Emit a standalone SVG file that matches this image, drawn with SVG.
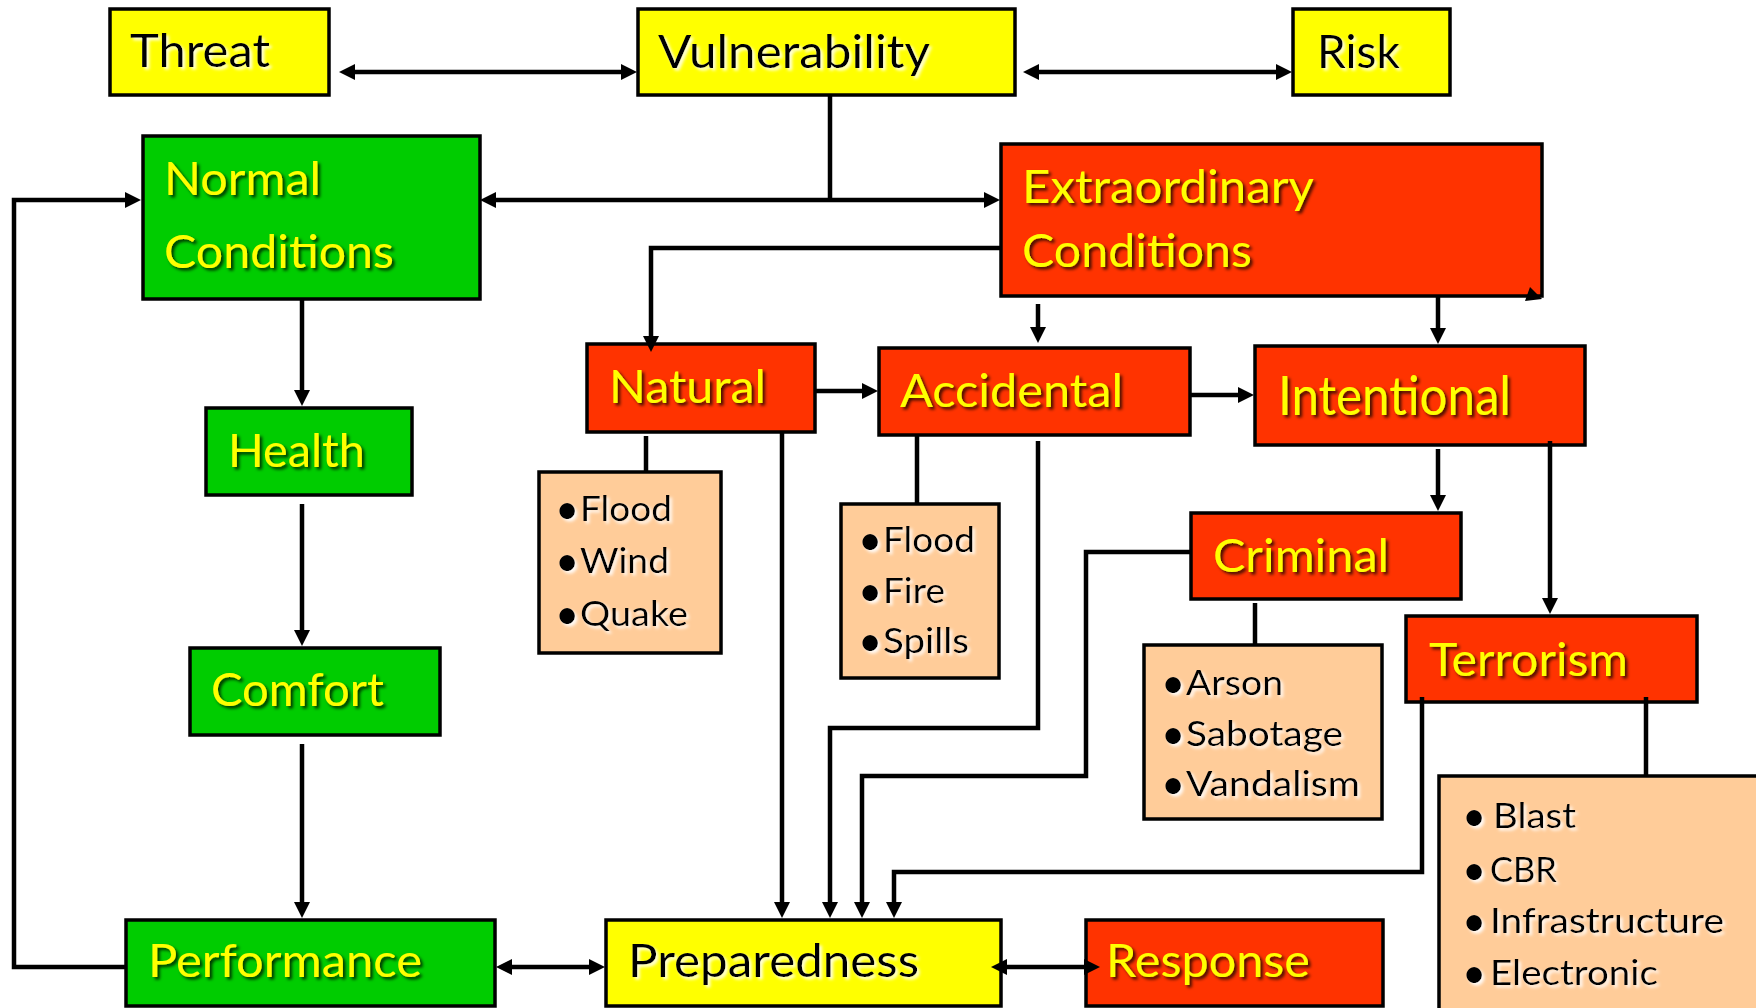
<svg xmlns="http://www.w3.org/2000/svg" width="1756" height="1008" viewBox="0 0 1756 1008">
<defs>
<style>
.box{stroke:#000;stroke-width:3.5}
.yel{fill:#FFFF00}
.grn{fill:#00CC00}
.red{fill:#FF3300}
.pch{fill:#FFCC99}
.t{font-family:Lato,"Liberation Sans",sans-serif;font-size:47px}
.ty{fill:#FFFF00;filter:url(#sd)}
.tb{fill:#000;filter:url(#sl)}
.li{font-family:Lato,"Liberation Sans",sans-serif;font-size:35px;fill:#000;filter:url(#sl)}
.bu{font-size:42px}
.c{fill:none;stroke:#000;stroke-width:4.5;stroke-linejoin:miter}
.a1{marker-end:url(#ah)}
.a2{marker-start:url(#ah);marker-end:url(#ah)}
</style>
<filter id="sd" x="-10%" y="-20%" width="130%" height="150%">
<feDropShadow dx="2.5" dy="2.5" stdDeviation="1.5" flood-color="#000" flood-opacity="0.75"/>
</filter>
<filter id="sl" x="-10%" y="-20%" width="130%" height="150%">
<feDropShadow dx="2.5" dy="2.5" stdDeviation="1.5" flood-color="#fff" flood-opacity="0.9"/>
</filter>
<marker id="ah" viewBox="0 0 16 16" markerWidth="16" markerHeight="16" refX="10" refY="8" orient="auto-start-reverse" markerUnits="userSpaceOnUse">
<path d="M0,0 L16,8 L0,16 z" fill="#000"/>
</marker>
</defs>
<rect width="1756" height="1008" fill="#fff"/>

<g id="threat"><rect class="box yel" x="110" y="9" width="219" height="86"/><text class="t tb" x="130" y="67" textLength="140" lengthAdjust="spacingAndGlyphs">Threat</text></g>
<g id="vulnerability"><rect class="box yel" x="638" y="9" width="377" height="86"/><text class="t tb" x="658" y="68" textLength="272" lengthAdjust="spacingAndGlyphs">Vulnerability</text></g>
<g id="risk"><rect class="box yel" x="1293" y="9" width="157" height="86"/><text class="t tb" x="1317" y="68" textLength="83" lengthAdjust="spacingAndGlyphs">Risk</text></g>

<g id="normal"><rect class="box grn" x="143" y="136" width="337" height="163"/>
<text class="t ty" x="164" y="195" textLength="157" lengthAdjust="spacingAndGlyphs">Normal</text>
<text class="t ty" x="164" y="268" textLength="230" lengthAdjust="spacingAndGlyphs">Conditions</text></g>

<g id="extraordinary"><rect class="box red" x="1001" y="144" width="541" height="152"/>
<text class="t ty" x="1022" y="203" textLength="292" lengthAdjust="spacingAndGlyphs">Extraordinary</text>
<text class="t ty" x="1022" y="267" textLength="230" lengthAdjust="spacingAndGlyphs">Conditions</text></g>

<g id="health"><rect class="box grn" x="206" y="408" width="206" height="87"/><text class="t ty" x="228" y="467" textLength="137" lengthAdjust="spacingAndGlyphs">Health</text></g>
<g id="comfort"><rect class="box grn" x="190" y="648" width="250" height="87"/><text class="t ty" x="211" y="706" textLength="173" lengthAdjust="spacingAndGlyphs">Comfort</text></g>
<g id="performance"><rect class="box grn" x="126" y="920" width="369" height="86"/><text class="t ty" x="148" y="977" textLength="274" lengthAdjust="spacingAndGlyphs">Performance</text></g>

<g id="natural"><rect class="box red" x="587" y="344" width="228" height="88"/><text class="t ty" x="609" y="403" textLength="157" lengthAdjust="spacingAndGlyphs">Natural</text></g>
<g id="accidental"><rect class="box red" x="879" y="348" width="311" height="87"/><text class="t ty" x="900" y="407" textLength="223" lengthAdjust="spacingAndGlyphs">Accidental</text></g>
<g id="intentional"><rect class="box red" x="1255" y="346" width="330" height="99"/><text class="t ty" x="1278" y="415" style="font-size:55px" textLength="233" lengthAdjust="spacingAndGlyphs">Intentional</text></g>
<g id="criminal"><rect class="box red" x="1191" y="513" width="270" height="86"/><text class="t ty" x="1213" y="572" textLength="176" lengthAdjust="spacingAndGlyphs">Criminal</text></g>
<g id="terrorism"><rect class="box red" x="1406" y="616" width="291" height="86"/><text class="t ty" x="1429" y="676" textLength="199" lengthAdjust="spacingAndGlyphs">Terrorism</text></g>

<g id="preparedness"><rect class="box yel" x="606" y="920" width="395" height="86"/><text class="t tb" x="628" y="977" textLength="291" lengthAdjust="spacingAndGlyphs">Preparedness</text></g>
<g id="response"><rect class="box red" x="1086" y="920" width="297" height="86"/><text class="t ty" x="1106" y="977" textLength="204" lengthAdjust="spacingAndGlyphs">Response</text></g>

<g id="natural-list"><rect class="box pch" x="539" y="472" width="182" height="181"/>
<text class="li"><tspan class="bu" x="555" y="524">•</tspan><tspan x="580" y="521" textLength="92" lengthAdjust="spacingAndGlyphs">Flood</tspan></text>
<text class="li"><tspan class="bu" x="555" y="576">•</tspan><tspan x="580" y="573" textLength="89" lengthAdjust="spacingAndGlyphs">Wind</tspan></text>
<text class="li"><tspan class="bu" x="555" y="629">•</tspan><tspan x="580" y="626" textLength="108" lengthAdjust="spacingAndGlyphs">Quake</tspan></text></g>

<g id="accidental-list"><rect class="box pch" x="841" y="504" width="158" height="174"/>
<text class="li"><tspan class="bu" x="858" y="555">•</tspan><tspan x="883" y="552" textLength="92" lengthAdjust="spacingAndGlyphs">Flood</tspan></text>
<text class="li"><tspan class="bu" x="858" y="606">•</tspan><tspan x="883" y="603" textLength="62" lengthAdjust="spacingAndGlyphs">Fire</tspan></text>
<text class="li"><tspan class="bu" x="858" y="656">•</tspan><tspan x="883" y="653" textLength="86" lengthAdjust="spacingAndGlyphs">Spills</tspan></text></g>

<g id="criminal-list"><rect class="box pch" x="1144" y="645" width="238" height="174"/>
<text class="li"><tspan class="bu" x="1161" y="698">•</tspan><tspan x="1186" y="695" textLength="97" lengthAdjust="spacingAndGlyphs">Arson</tspan></text>
<text class="li"><tspan class="bu" x="1161" y="749">•</tspan><tspan x="1186" y="746" textLength="157" lengthAdjust="spacingAndGlyphs">Sabotage</tspan></text>
<text class="li"><tspan class="bu" x="1161" y="799">•</tspan><tspan x="1186" y="796" textLength="174" lengthAdjust="spacingAndGlyphs">Vandalism</tspan></text></g>

<g id="terrorism-list"><rect class="box pch" x="1439" y="776" width="340" height="260"/>
<text class="li"><tspan class="bu" x="1462" y="831">•</tspan><tspan x="1493" y="828" textLength="83" lengthAdjust="spacingAndGlyphs">Blast</tspan></text>
<text class="li"><tspan class="bu" x="1462" y="885">•</tspan><tspan x="1490" y="882" textLength="67" lengthAdjust="spacingAndGlyphs">CBR</tspan></text>
<text class="li"><tspan class="bu" x="1462" y="936">•</tspan><tspan x="1490" y="933" textLength="234" lengthAdjust="spacingAndGlyphs">Infrastructure</tspan></text>
<text class="li"><tspan class="bu" x="1462" y="988">•</tspan><tspan x="1490" y="985" textLength="168" lengthAdjust="spacingAndGlyphs">Electronic</tspan></text></g>

<g id="connectors">
<path class="c a2" d="M345,72 H631"/>
<path class="c a2" d="M1029,72 H1286"/>
<path class="c" d="M830,95 V200"/>
<path class="c a2" d="M486,200 H994"/>
<path class="c a1" d="M126,967 H14 V200 H135"/>
<path class="c a1" d="M302,299 V400"/>
<path class="c a1" d="M302,504 V640"/>
<path class="c a1" d="M302,744 V912"/>
<path class="c a2" d="M502,967 H599"/>
<path class="c a2" d="M997,967 H1094"/>
<path class="c a1" d="M1001,248 H651 V346"/>
<path class="c a1" d="M1038,304 V337"/>
<path class="c a1" d="M1438,296 V338"/>
<polygon points="1530,287 1525,301 1542,299" fill="#000"/>
<path class="c a1" d="M815,391 H872"/>
<path class="c a1" d="M1191,395 H1248"/>
<path class="c" d="M646,436 V472"/>
<path class="c" d="M917,436 V504"/>
<path class="c a1" d="M782,433 V912"/>
<path class="c a1" d="M1038,441 V728 H830 V912"/>
<path class="c a1" d="M1191,552 H1086 V776 H862 V912"/>
<path class="c a1" d="M1422,697 V872 H894 V912"/>
<path class="c a1" d="M1438,449 V505"/>
<path class="c a1" d="M1550,441 V608"/>
<path class="c" d="M1255,603 V645"/>
<path class="c" d="M1646,697 V776"/>
</g>
</svg>
